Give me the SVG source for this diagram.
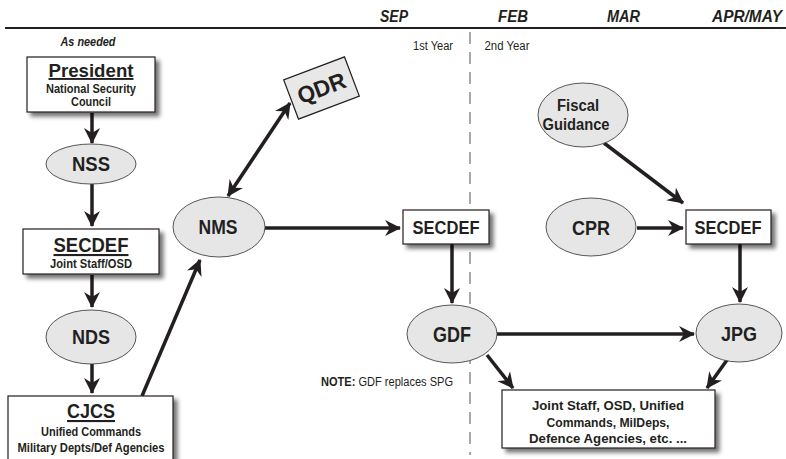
<svg xmlns="http://www.w3.org/2000/svg" width="786" height="459" viewBox="0 0 786 459">
<style>
text{font-family:"Liberation Sans",Arial,sans-serif;fill:#231f20;text-anchor:middle}
.b{font-weight:bold}
.hd{font-weight:bold;font-style:italic;font-size:16px}
.box{fill:#fff;stroke:#231f20;stroke-width:1.2;filter:url(#sh)}
.ell{fill:#e6e6e6;stroke:#444;stroke-width:0.9}
.c line{stroke:#231f20;stroke-width:3.5;fill:none}
.c .a{marker-end:url(#ah)}
</style>
<defs>
<filter id="sh" x="-20%" y="-20%" width="140%" height="150%">
<feDropShadow dx="4" dy="4" stdDeviation="2" flood-color="#000" flood-opacity="0.55"/>
</filter>
<marker id="ah" viewBox="0 0 16 16" refX="15" refY="8" markerWidth="16" markerHeight="16" markerUnits="userSpaceOnUse" orient="auto-start-reverse">
<path d="M0,0 L16,8 L0,16 L5,8 z" fill="#231f20"/>
</marker>
</defs>
<rect width="786" height="459" fill="#fff"/>
<g id="header">
<line x1="5" y1="28" x2="786" y2="28" stroke="#231f20" stroke-width="2.2"/>
<text class="hd" x="394" y="22" textLength="28" lengthAdjust="spacingAndGlyphs">SEP</text>
<text class="hd" x="513" y="22" textLength="30" lengthAdjust="spacingAndGlyphs">FEB</text>
<text class="hd" x="623.5" y="22" textLength="33" lengthAdjust="spacingAndGlyphs">MAR</text>
<text class="hd" x="747" y="22" textLength="70" lengthAdjust="spacingAndGlyphs">APR/MAY</text>
<text x="433" y="50" font-size="12" textLength="40" lengthAdjust="spacingAndGlyphs">1st Year</text>
<text x="507" y="50" font-size="12" textLength="45" lengthAdjust="spacingAndGlyphs">2nd Year</text>
<line x1="470" y1="32" x2="470" y2="455" stroke="#8c8c8c" stroke-width="1.5" stroke-dasharray="12,8"/>
<text x="88" y="46" font-size="12" class="b" font-style="italic" textLength="55" lengthAdjust="spacingAndGlyphs">As needed</text>
<text x="387" y="386" font-size="12" textLength="132" lengthAdjust="spacingAndGlyphs"><tspan class="b">NOTE:</tspan> GDF replaces SPG</text>
</g>
<g class="c" id="connectors">
<line class="a" x1="92" y1="113" x2="92" y2="143"/>
<line class="a" x1="92" y1="183" x2="92" y2="226"/>
<line class="a" x1="92" y1="275" x2="92" y2="307"/>
<line class="a" x1="92" y1="364" x2="92" y2="393"/>
<line class="a" x1="142" y1="396" x2="200" y2="260"/>
<line class="a" x1="290" y1="103" x2="228" y2="196" marker-start="url(#ah)"/>
<line class="a" x1="265" y1="228" x2="400" y2="228"/>
<line class="a" x1="452" y1="244" x2="452" y2="303"/>
<line class="a" x1="497" y1="334" x2="694" y2="334"/>
<line class="a" x1="487" y1="355" x2="513" y2="388"/>
<line class="a" x1="727" y1="360" x2="707" y2="388"/>
<line class="a" x1="604" y1="143" x2="683" y2="203"/>
<line class="a" x1="637" y1="228" x2="683" y2="228"/>
<line class="a" x1="740" y1="244" x2="740" y2="302"/>
</g>
<g id="president">
<rect class="box" x="27" y="57" width="128" height="55"/>
<text class="b" x="91" y="77" font-size="19" text-decoration="underline" textLength="85" lengthAdjust="spacingAndGlyphs">President</text>
<text class="b" x="91" y="93" font-size="12.5" textLength="90" lengthAdjust="spacingAndGlyphs">National Security</text>
<text class="b" x="91" y="106" font-size="12.5" textLength="40" lengthAdjust="spacingAndGlyphs">Council</text>
</g>
<g id="nss">
<ellipse class="ell" cx="91" cy="164" rx="45" ry="20"/>
<text class="b" x="91" y="171" font-size="20" textLength="38" lengthAdjust="spacingAndGlyphs">NSS</text>
</g>
<g id="secdef1">
<rect class="box" x="23" y="229" width="136" height="45"/>
<text class="b" x="91" y="252" font-size="21" text-decoration="underline" textLength="75" lengthAdjust="spacingAndGlyphs">SECDEF</text>
<text class="b" x="91" y="268" font-size="12" textLength="82" lengthAdjust="spacingAndGlyphs">Joint Staff/OSD</text>
</g>
<g id="nds">
<ellipse class="ell" cx="91" cy="337" rx="45" ry="27"/>
<text class="b" x="91" y="344" font-size="20" textLength="38" lengthAdjust="spacingAndGlyphs">NDS</text>
</g>
<g id="cjcs">
<rect class="box" x="8" y="396" width="165" height="70"/>
<text class="b" x="91" y="418" font-size="21" text-decoration="underline" textLength="48" lengthAdjust="spacingAndGlyphs">CJCS</text>
<text class="b" x="91" y="436" font-size="12.5" textLength="100" lengthAdjust="spacingAndGlyphs">Unified Commands</text>
<text class="b" x="91" y="452" font-size="12.5" textLength="147" lengthAdjust="spacingAndGlyphs">Military Depts/Def Agencies</text>
</g>
<g id="nms">
<ellipse class="ell" cx="219" cy="227" rx="46" ry="30"/>
<text class="b" x="218" y="234" font-size="20" textLength="39" lengthAdjust="spacingAndGlyphs">NMS</text>
</g>
<g id="qdr" transform="translate(321.5,88) rotate(-20.7)">
<rect x="-32.5" y="-21" width="65" height="42" fill="#e8e8e8" stroke="#231f20" stroke-width="1.2"/>
<text class="b" x="0" y="8" font-size="23" textLength="50" lengthAdjust="spacingAndGlyphs">QDR</text>
</g>
<g id="secdef2">
<rect class="box" x="403" y="210" width="86" height="34"/>
<text class="b" x="446" y="234" font-size="19" textLength="67" lengthAdjust="spacingAndGlyphs">SECDEF</text>
</g>
<g id="gdf">
<ellipse class="ell" cx="452" cy="334" rx="45" ry="29"/>
<text class="b" x="452" y="342" font-size="22" textLength="38" lengthAdjust="spacingAndGlyphs">GDF</text>
</g>
<g id="fiscal">
<ellipse class="ell" cx="583" cy="115" rx="45" ry="32"/>
<text class="b" x="578" y="111" font-size="16" textLength="42" lengthAdjust="spacingAndGlyphs">Fiscal</text>
<text class="b" x="576" y="130" font-size="16" textLength="67" lengthAdjust="spacingAndGlyphs">Guidance</text>
</g>
<g id="cpr">
<ellipse class="ell" cx="591" cy="227" rx="45" ry="29"/>
<text class="b" x="591" y="235" font-size="21" textLength="38" lengthAdjust="spacingAndGlyphs">CPR</text>
</g>
<g id="secdef3">
<rect class="box" x="686" y="210" width="85" height="34"/>
<text class="b" x="728" y="234" font-size="19" textLength="67" lengthAdjust="spacingAndGlyphs">SECDEF</text>
</g>
<g id="jpg">
<ellipse class="ell" cx="739" cy="333" rx="43" ry="29"/>
<text class="b" x="739" y="341" font-size="21" textLength="36" lengthAdjust="spacingAndGlyphs">JPG</text>
</g>
<g id="agencies">
<rect class="box" x="502" y="390" width="213" height="58"/>
<text class="b" x="608" y="410" font-size="13.5" textLength="152" lengthAdjust="spacingAndGlyphs">Joint Staff, OSD, Unified</text>
<text class="b" x="608" y="427" font-size="13.5" textLength="123" lengthAdjust="spacingAndGlyphs">Commands, MilDeps,</text>
<text class="b" x="608" y="443" font-size="13.5" textLength="158" lengthAdjust="spacingAndGlyphs">Defence Agencies, etc. ...</text>
</g>
</svg>
